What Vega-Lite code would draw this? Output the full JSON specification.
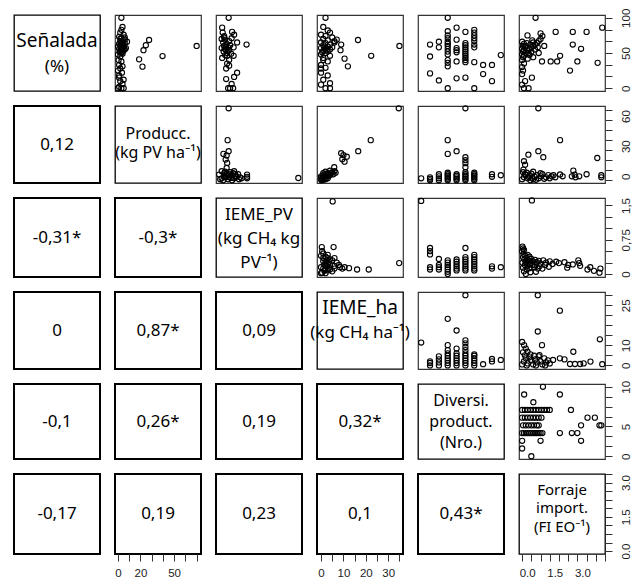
{
"$schema": "https://vega.github.io/schema/vega-lite/v6.json",
"background": "white",
"padding": {"left": 13, "top": 7, "right": 0, "bottom": 0},
"columns": 6,
"spacing": 15,
"bounds": "flush",
"config": {
 "font": "Noto Sans",
 "view": {"stroke": "#333", "strokeWidth": 1.2},
 "point": {"shape": "circle", "filled": false, "size": 27, "strokeWidth": 1.1, "color": "black", "opacity": 1},
 "text": {"font": "Noto Sans", "fontSize": 17, "fontWeight": "normal", "color": "black"},
 "axis": {"grid": false, "domain": false, "tickColor": "#333", "tickSize": 7, "tickWidth": 1, "labelFont": "Liberation Sans", "labelFontSize": 11.5, "labelColor": "#222", "labelFlush": false, "labelOverlap": false},
 "axisRight": {"labelAngle": -90, "labelAlign": "center", "labelBaseline": "top", "labelPadding": 8},
 "axisBottom": {"labelAngle": 0, "labelAlign": "center", "labelBaseline": "top", "labelPadding": 6}
},
"datasets": {
 "s12": [{"x":3,"y":100},{"x":4,"y":87},{"x":3,"y":83},{"x":2,"y":79},{"x":5,"y":76},{"x":1,"y":73},{"x":3,"y":71},{"x":6,"y":69},{"x":2,"y":67},{"x":4,"y":65},{"x":1,"y":63},{"x":3,"y":62},{"x":5,"y":61},{"x":2,"y":60},{"x":4,"y":58},{"x":7,"y":57},{"x":1,"y":56},{"x":3,"y":55},{"x":5,"y":54},{"x":2,"y":53},{"x":4,"y":52},{"x":3,"y":50},{"x":6,"y":64},{"x":8,"y":66},{"x":0,"y":48},{"x":2,"y":45},{"x":0.5,"y":40},{"x":3,"y":38},{"x":1,"y":33},{"x":4,"y":31},{"x":2,"y":28},{"x":3.5,"y":22},{"x":1,"y":18},{"x":5,"y":12},{"x":2,"y":10},{"x":4,"y":6},{"x":1,"y":2},{"x":3,"y":0},{"x":5,"y":0},{"x":0,"y":0},{"x":0,"y":25},{"x":1,"y":15},{"x":2,"y":70},{"x":6,"y":72},{"x":0,"y":59},{"x":4.5,"y":68},{"x":2.5,"y":64},{"x":5.5,"y":59},{"x":3.5,"y":57},{"x":1.5,"y":51},{"x":4,"y":49},{"x":6,"y":55},{"x":27.7,"y":68.5},{"x":24.8,"y":61},{"x":22.7,"y":54},{"x":18.8,"y":41},{"x":21.8,"y":30.6},{"x":39.7,"y":45.7},{"x":70.1,"y":60}],
 "s13": [{"x":0.19,"y":100},{"x":0.06,"y":86},{"x":0.07,"y":79},{"x":0.26,"y":80},{"x":0.3,"y":76},{"x":0.1,"y":74},{"x":0.05,"y":70},{"x":0.12,"y":69},{"x":0.36,"y":65},{"x":0.55,"y":62},{"x":0.2,"y":67},{"x":0.08,"y":65},{"x":0.15,"y":63},{"x":0.22,"y":61},{"x":0.1,"y":60},{"x":0.18,"y":58},{"x":0.29,"y":58},{"x":0.05,"y":57},{"x":0.13,"y":55},{"x":0.2,"y":54},{"x":0.09,"y":52},{"x":0.16,"y":50},{"x":0.24,"y":49},{"x":0.12,"y":47},{"x":0.16,"y":46},{"x":0.29,"y":46},{"x":0.06,"y":43},{"x":0.2,"y":40},{"x":0.16,"y":35},{"x":0.2,"y":32},{"x":0.14,"y":28},{"x":0.36,"y":22},{"x":0.3,"y":16},{"x":0.14,"y":13},{"x":0.25,"y":6},{"x":0.22,"y":0},{"x":0.28,"y":0},{"x":0.18,"y":0},{"x":0.1,"y":72},{"x":0.25,"y":71},{"x":0.14,"y":59},{"x":0.11,"y":56},{"x":0.17,"y":53}],
 "s14": [{"x":2,"y":100},{"x":1,"y":87},{"x":3,"y":82},{"x":4,"y":79},{"x":0,"y":76},{"x":2,"y":74},{"x":5,"y":72},{"x":1,"y":70},{"x":3,"y":68},{"x":6,"y":67},{"x":0,"y":65},{"x":2,"y":64},{"x":4,"y":62},{"x":1,"y":61},{"x":3,"y":59},{"x":5,"y":58},{"x":0,"y":57},{"x":2,"y":56},{"x":4,"y":55},{"x":1,"y":53},{"x":3,"y":52},{"x":2,"y":50},{"x":0,"y":48},{"x":4,"y":46},{"x":1,"y":43},{"x":3,"y":38},{"x":0,"y":33},{"x":2,"y":29},{"x":0,"y":22},{"x":3,"y":18},{"x":1,"y":12},{"x":4,"y":7},{"x":0,"y":5},{"x":2,"y":0},{"x":4,"y":0},{"x":6,"y":65},{"x":7,"y":69},{"x":9,"y":62},{"x":8.7,"y":54},{"x":16.5,"y":68.5},{"x":10.5,"y":42},{"x":12,"y":31},{"x":22.4,"y":46},{"x":35,"y":60},{"x":1,"y":40},{"x":0,"y":28},{"x":1.5,"y":58},{"x":2.5,"y":54},{"x":0.5,"y":51}],
 "s15": [{"x":2,"y":62},{"x":2,"y":45},{"x":2,"y":21},{"x":3,"y":66},{"x":3,"y":58},{"x":3,"y":11},{"x":4,"y":100},{"x":4,"y":81},{"x":4,"y":75},{"x":4,"y":71},{"x":4,"y":66},{"x":4,"y":63},{"x":4,"y":60},{"x":4,"y":56},{"x":4,"y":52},{"x":4,"y":48},{"x":4,"y":40},{"x":4,"y":36},{"x":4,"y":31},{"x":4,"y":0},{"x":5,"y":86},{"x":5,"y":69},{"x":5,"y":57},{"x":5,"y":54},{"x":5,"y":51},{"x":5,"y":38},{"x":5,"y":14},{"x":6,"y":80},{"x":6,"y":64},{"x":6,"y":61},{"x":6,"y":58},{"x":6,"y":55},{"x":6,"y":52},{"x":6,"y":49},{"x":6,"y":46},{"x":6,"y":43},{"x":6,"y":40},{"x":6,"y":37},{"x":6,"y":15},{"x":7,"y":83},{"x":7,"y":79},{"x":7,"y":75},{"x":7,"y":71},{"x":7,"y":67},{"x":7,"y":62},{"x":7,"y":58},{"x":7,"y":37},{"x":7,"y":0},{"x":8,"y":33},{"x":8,"y":20},{"x":9,"y":33},{"x":9,"y":10},{"x":10,"y":47}],
 "s16": [{"x":0.73,"y":100},{"x":0.29,"y":75},{"x":1.0,"y":70},{"x":0.9,"y":67},{"x":0.8,"y":64},{"x":0.7,"y":62},{"x":0.6,"y":60},{"x":0.5,"y":58},{"x":0.4,"y":56},{"x":0.3,"y":54},{"x":1.1,"y":74},{"x":1.0,"y":78},{"x":1.82,"y":80},{"x":2.75,"y":80},{"x":3.5,"y":80},{"x":4.35,"y":86},{"x":2.75,"y":62},{"x":3.2,"y":56},{"x":2.06,"y":46},{"x":1.08,"y":38},{"x":1.55,"y":38},{"x":1.9,"y":38},{"x":3.0,"y":38},{"x":4.1,"y":36},{"x":2.6,"y":25},{"x":0.53,"y":15},{"x":0.16,"y":10},{"x":0.35,"y":0},{"x":0.1,"y":0},{"x":0,"y":5},{"x":0,"y":66},{"x":0.1,"y":63},{"x":0.05,"y":60},{"x":0.15,"y":58},{"x":0,"y":56},{"x":0.1,"y":54},{"x":0.05,"y":52},{"x":0.2,"y":50},{"x":0,"y":48},{"x":0.1,"y":46},{"x":0.05,"y":44},{"x":0,"y":40},{"x":0.1,"y":35},{"x":0,"y":30},{"x":0.05,"y":25},{"x":0,"y":20},{"x":0.35,"y":50},{"x":0.5,"y":52},{"x":0.7,"y":55},{"x":0.45,"y":62},{"x":0.6,"y":65},{"x":0.25,"y":64},{"x":0.85,"y":58},{"x":0.4,"y":47},{"x":0.6,"y":44},{"x":0.9,"y":50},{"x":1.2,"y":60},{"x":0.3,"y":42},{"x":0.2,"y":60},{"x":0.55,"y":68}],
 "s23": [{"x":0.19,"y":71.7},{"x":0.17,"y":40},{"x":0.19,"y":29},{"x":0.085,"y":26.3},{"x":0.15,"y":24.7},{"x":0.13,"y":20.6},{"x":0.16,"y":17.3},{"x":0.15,"y":12.3},{"x":0.12,"y":8.5},{"x":0.56,"y":5.7},{"x":0.56,"y":3.5},{"x":0.56,"y":2},{"x":1.59,"y":2.3},{"x":0,"y":5.7},{"x":0.05,"y":2},{"x":0.1,"y":4},{"x":0.15,"y":6},{"x":0.2,"y":3},{"x":0.25,"y":5},{"x":0.3,"y":2},{"x":0.35,"y":4},{"x":0.4,"y":1},{"x":0.08,"y":0},{"x":0.18,"y":1},{"x":0.28,"y":7},{"x":0.22,"y":8},{"x":0.12,"y":3},{"x":0.32,"y":6},{"x":0.02,"y":1},{"x":0.42,"y":3},{"x":0.38,"y":6},{"x":0.45,"y":2},{"x":0.26,"y":0},{"x":0.1,"y":7},{"x":0.05,"y":9},{"x":0.2,"y":6},{"x":0.3,"y":9},{"x":0.14,"y":4.5},{"x":0.24,"y":2.5},{"x":0.33,"y":3.5}],
 "s24": [{"x":34.7,"y":71.7},{"x":22.2,"y":40},{"x":16.6,"y":29},{"x":9,"y":27},{"x":10,"y":25},{"x":11.5,"y":23.5},{"x":9.5,"y":21},{"x":10.5,"y":18.5},{"x":5.9,"y":13},{"x":4,"y":9.5},{"x":5,"y":8},{"x":3,"y":7},{"x":2,"y":6},{"x":1,"y":5},{"x":0,"y":4},{"x":1,"y":3},{"x":2,"y":2},{"x":3,"y":4},{"x":4,"y":5},{"x":0,"y":1},{"x":0.5,"y":2},{"x":1.5,"y":3.5},{"x":2.5,"y":4.5},{"x":3.5,"y":6},{"x":1,"y":0.5},{"x":2,"y":1},{"x":0,"y":2.5},{"x":4.5,"y":7},{"x":6,"y":9},{"x":3,"y":2},{"x":0.2,"y":0},{"x":5.5,"y":6},{"x":6.5,"y":7.5},{"x":1,"y":7},{"x":2,"y":8.5}],
 "s25": [{"x":1,"y":2},{"x":2,"y":0},{"x":2,"y":1.5},{"x":2,"y":3},{"x":3,"y":0},{"x":3,"y":2},{"x":3,"y":4},{"x":3,"y":6},{"x":4,"y":0},{"x":4,"y":1.5},{"x":4,"y":3},{"x":4,"y":4.5},{"x":4,"y":6},{"x":4,"y":7.5},{"x":4,"y":26.3},{"x":4,"y":40},{"x":5,"y":0},{"x":5,"y":1.5},{"x":5,"y":3},{"x":5,"y":4.5},{"x":5,"y":6},{"x":5,"y":29},{"x":6,"y":0},{"x":6,"y":1.5},{"x":6,"y":3},{"x":6,"y":4.5},{"x":6,"y":6},{"x":6,"y":8},{"x":6,"y":13},{"x":6,"y":17},{"x":6,"y":20},{"x":6,"y":23},{"x":6,"y":71.7},{"x":7,"y":0},{"x":7,"y":1.5},{"x":7,"y":3},{"x":7,"y":4.5},{"x":7,"y":6},{"x":7,"y":7.5},{"x":9,"y":3.5},{"x":9,"y":6},{"x":10,"y":5}],
 "s26": [{"x":0.88,"y":71.7},{"x":2.06,"y":40},{"x":0.88,"y":29},{"x":1.15,"y":23},{"x":0.34,"y":25.5},{"x":0.16,"y":15.5},{"x":0.07,"y":10.6},{"x":0.1,"y":19},{"x":4.08,"y":22.2},{"x":2.78,"y":9.6},{"x":2.7,"y":4},{"x":2.9,"y":3},{"x":3.1,"y":4},{"x":2.85,"y":5.5},{"x":3.5,"y":6},{"x":2.06,"y":5.8},{"x":1.7,"y":5},{"x":4.3,"y":5},{"x":4.3,"y":3},{"x":0,"y":1},{"x":0.1,"y":3},{"x":0.2,"y":5.5},{"x":0.3,"y":2},{"x":0.42,"y":4.5},{"x":0.5,"y":6.5},{"x":0.6,"y":1},{"x":0.68,"y":3.5},{"x":0.8,"y":5},{"x":0.9,"y":2},{"x":1.02,"y":4},{"x":1.1,"y":6},{"x":1.2,"y":1.5},{"x":1.3,"y":3},{"x":1.42,"y":5.2},{"x":1.5,"y":2},{"x":1.6,"y":4},{"x":0.25,"y":7.5},{"x":0.05,"y":8},{"x":0.45,"y":0},{"x":0.75,"y":0.5},{"x":1,"y":7},{"x":0.15,"y":6},{"x":0.6,"y":8.5},{"x":1.8,"y":3},{"x":2.2,"y":4},{"x":0.35,"y":3.5},{"x":0.55,"y":2.5}],
 "s34": [{"x":5.2,"y":1.59},{"x":0.35,"y":0.59},{"x":5.6,"y":0.59},{"x":0.5,"y":0.5},{"x":1,"y":0.45},{"x":0,"y":0.4},{"x":2,"y":0.38},{"x":3,"y":0.35},{"x":4,"y":0.32},{"x":5,"y":0.3},{"x":1,"y":0.28},{"x":2,"y":0.25},{"x":3,"y":0.22},{"x":4,"y":0.2},{"x":6,"y":0.18},{"x":0,"y":0.15},{"x":1,"y":0.12},{"x":2,"y":0.1},{"x":3,"y":0.08},{"x":5,"y":0.06},{"x":0.5,"y":0.03},{"x":7,"y":0.25},{"x":8,"y":0.2},{"x":6,"y":0.12},{"x":4,"y":0.1},{"x":8.5,"y":0.15},{"x":1.5,"y":0.2},{"x":2.5,"y":0.3},{"x":3.5,"y":0.14},{"x":9.5,"y":0.12},{"x":10.5,"y":0.15},{"x":12.5,"y":0.13},{"x":16.1,"y":0.1},{"x":21.3,"y":0.1},{"x":34.9,"y":0.24},{"x":0,"y":0.02},{"x":2,"y":0.02},{"x":1,"y":0.35},{"x":3,"y":0.42},{"x":6,"y":0.35},{"x":2.5,"y":0.17},{"x":3.5,"y":0.27},{"x":1.5,"y":0.07}],
 "s35": [{"x":1,"y":1.6},{"x":2,"y":0.57},{"x":2,"y":0.5},{"x":2,"y":0.43},{"x":2,"y":0.15},{"x":2,"y":0.1},{"x":3,"y":0.33},{"x":3,"y":0.2},{"x":3,"y":0.15},{"x":3,"y":0.1},{"x":4,"y":0},{"x":4,"y":0.05},{"x":4,"y":0.1},{"x":4,"y":0.15},{"x":4,"y":0.2},{"x":4,"y":0.25},{"x":4,"y":0.3},{"x":5,"y":0.08},{"x":5,"y":0.12},{"x":5,"y":0.17},{"x":5,"y":0.22},{"x":5,"y":0.27},{"x":5,"y":0.32},{"x":6,"y":0.57},{"x":6,"y":0.08},{"x":6,"y":0.12},{"x":6,"y":0.17},{"x":6,"y":0.22},{"x":6,"y":0.27},{"x":6,"y":0.32},{"x":6,"y":0.37},{"x":7,"y":0.08},{"x":7,"y":0.12},{"x":7,"y":0.17},{"x":7,"y":0.22},{"x":7,"y":0.27},{"x":7,"y":0.32},{"x":7,"y":0.37},{"x":7,"y":0.42},{"x":9,"y":0.12},{"x":9,"y":0.17},{"x":10,"y":0.15}],
 "s36": [{"x":0.53,"y":1.61},{"x":0.02,"y":0.6},{"x":0.05,"y":0.56},{"x":0.1,"y":0.53},{"x":0.0,"y":0.5},{"x":0.08,"y":0.44},{"x":0.18,"y":0.4},{"x":0.3,"y":0.42},{"x":0.05,"y":0.37},{"x":0.25,"y":0.35},{"x":0.4,"y":0.38},{"x":0.12,"y":0.32},{"x":0.35,"y":0.3},{"x":0.5,"y":0.33},{"x":0.6,"y":0.28},{"x":0.2,"y":0.27},{"x":0.02,"y":0.25},{"x":0.45,"y":0.24},{"x":0.7,"y":0.31},{"x":0.8,"y":0.26},{"x":0.15,"y":0.2},{"x":0.3,"y":0.18},{"x":0.55,"y":0.2},{"x":0.9,"y":0.29},{"x":1.0,"y":0.23},{"x":0.05,"y":0.14},{"x":0.25,"y":0.1},{"x":0.4,"y":0.13},{"x":0.65,"y":0.15},{"x":0.85,"y":0.12},{"x":0.1,"y":0.06},{"x":0.45,"y":0.04},{"x":0.2,"y":0.0},{"x":1.15,"y":0.3},{"x":1.3,"y":0.25},{"x":1.25,"y":0.2},{"x":1.5,"y":0.28},{"x":1.65,"y":0.22},{"x":1.85,"y":0.27},{"x":2.0,"y":0.24},{"x":2.3,"y":0.26},{"x":2.5,"y":0.2},{"x":2.45,"y":0.14},{"x":2.75,"y":0.21},{"x":3.05,"y":0.3},{"x":3.1,"y":0.24},{"x":3.15,"y":0.18},{"x":3.55,"y":0.1},{"x":3.7,"y":0.15},{"x":3.9,"y":0.07},{"x":4.2,"y":0.03},{"x":4.25,"y":0.12},{"x":1.1,"y":0.12},{"x":0.75,"y":0.05},{"x":1.45,"y":0.16},{"x":0.35,"y":0.22},{"x":0.7,"y":0.19},{"x":0.95,"y":0.17}],
 "s45": [{"x":1,"y":11.4},{"x":2,"y":0},{"x":2,"y":1.2},{"x":2,"y":2},{"x":3,"y":0},{"x":3,"y":1.5},{"x":3,"y":3},{"x":3,"y":4.5},{"x":4,"y":0},{"x":4,"y":1.2},{"x":4,"y":2.4},{"x":4,"y":3.6},{"x":4,"y":4.8},{"x":4,"y":6},{"x":4,"y":7.6},{"x":4,"y":10.1},{"x":4,"y":23.2},{"x":5,"y":0},{"x":5,"y":1.2},{"x":5,"y":2.4},{"x":5,"y":3.6},{"x":5,"y":4.8},{"x":5,"y":6},{"x":5,"y":8.4},{"x":5,"y":17.4},{"x":6,"y":0},{"x":6,"y":1.2},{"x":6,"y":2.4},{"x":6,"y":3.6},{"x":6,"y":4.8},{"x":6,"y":6},{"x":6,"y":7.6},{"x":6,"y":9.2},{"x":6,"y":11},{"x":6,"y":12.5},{"x":6,"y":35},{"x":7,"y":0},{"x":7,"y":1.2},{"x":7,"y":2.4},{"x":7,"y":3.6},{"x":7,"y":4.8},{"x":7,"y":5.5},{"x":8,"y":0.6},{"x":9,"y":2},{"x":9,"y":3.2},{"x":10,"y":2.7}],
 "s46": [{"x":0.85,"y":35},{"x":2.05,"y":27.3},{"x":0.85,"y":16.9},{"x":1.08,"y":10.1},{"x":4.22,"y":13},{"x":0,"y":11.7},{"x":0.11,"y":10.1},{"x":0.2,"y":8.4},{"x":0.29,"y":6.8},{"x":0.94,"y":5.15},{"x":2.78,"y":6.8},{"x":2.6,"y":0.7},{"x":2.87,"y":0.7},{"x":3.15,"y":0.7},{"x":3.34,"y":1},{"x":3.71,"y":1.9},{"x":4.35,"y":0.6},{"x":1.68,"y":2.7},{"x":2.05,"y":3.5},{"x":2.3,"y":3},{"x":0,"y":0.5},{"x":0.1,"y":2},{"x":0.2,"y":3.5},{"x":0.3,"y":1},{"x":0.4,"y":4},{"x":0.5,"y":2.5},{"x":0.6,"y":0.5},{"x":0.7,"y":3},{"x":0.8,"y":1.5},{"x":0.9,"y":4.5},{"x":1.0,"y":2},{"x":1.1,"y":0.5},{"x":1.2,"y":3.5},{"x":1.3,"y":1.5},{"x":1.4,"y":2.5},{"x":1.5,"y":1},{"x":0.15,"y":5},{"x":0.05,"y":6.5},{"x":0.45,"y":5.5},{"x":0.65,"y":4.8},{"x":0.25,"y":0},{"x":0.75,"y":0},{"x":1.25,"y":0}],
 "s56": [{"x":1.13,"y":10},{"x":0.11,"y":9},{"x":2.05,"y":9},{"x":0.61,"y":8},{"x":0,"y":7},{"x":0.15,"y":7},{"x":0.3,"y":7},{"x":0.45,"y":7},{"x":0.6,"y":7},{"x":0.75,"y":7},{"x":0.9,"y":7},{"x":1.05,"y":7},{"x":1.2,"y":7},{"x":1.35,"y":7},{"x":1.5,"y":7},{"x":2.65,"y":7},{"x":0,"y":6},{"x":0.15,"y":6},{"x":0.3,"y":6},{"x":0.45,"y":6},{"x":0.6,"y":6},{"x":0.75,"y":6},{"x":0.9,"y":6},{"x":1.05,"y":6},{"x":3.55,"y":6},{"x":3.95,"y":6},{"x":0.05,"y":5},{"x":0.2,"y":5},{"x":0.35,"y":5},{"x":0.5,"y":5},{"x":0.65,"y":5},{"x":0.8,"y":5},{"x":0.9,"y":5},{"x":3.2,"y":5},{"x":4.2,"y":5},{"x":4.3,"y":5},{"x":0,"y":4},{"x":0.1,"y":4},{"x":0.2,"y":4},{"x":0.3,"y":4},{"x":0.4,"y":4},{"x":0.5,"y":4},{"x":0.6,"y":4},{"x":0.7,"y":4},{"x":0.8,"y":4},{"x":0.9,"y":4},{"x":1.0,"y":4},{"x":1.1,"y":4},{"x":2.05,"y":4},{"x":2.7,"y":4},{"x":3.0,"y":4},{"x":0,"y":3},{"x":1.0,"y":3},{"x":3.2,"y":3},{"x":0,"y":2},{"x":0.5,"y":1}]
},
"concat": [
 {"width":86,"height":76,"view":{"stroke":"black","strokeWidth":1.3},"data":{"values":[{"t":"Señalada","line":1,"role":"title"},{"t":"(%)","line":2,"role":"unit"}]},"mark":"text","encoding":{"text":{"field":"t"},"y":{"field":"line","type":"ordinal","scale":{"type":"point","domain":[1,2],"padding":1.227,"align":0.5185},"axis":null},"size":{"field":"role","type":"ordinal","scale":{"type":"point","domain":["title","unit"],"range":[19,17],"padding":0},"legend":null}}},
 {"width":86,"height":76,"data":{"name":"s12"},"mark":"point","encoding":{"x":{"field":"x","type":"quantitative","scale":{"domain":[-2.7,74],"nice":false,"zero":false},"axis":null},"y":{"field":"y","type":"quantitative","scale":{"domain":[-4,104],"nice":false,"zero":false},"axis":null}}},
 {"width":86,"height":76,"data":{"name":"s13"},"mark":"point","encoding":{"x":{"field":"x","type":"quantitative","scale":{"domain":[-0.064,1.664],"nice":false,"zero":false},"axis":null},"y":{"field":"y","type":"quantitative","scale":{"domain":[-4,104],"nice":false,"zero":false},"axis":null}}},
 {"width":86,"height":76,"data":{"name":"s14"},"mark":"point","encoding":{"x":{"field":"x","type":"quantitative","scale":{"domain":[-1.8,36.6],"nice":false,"zero":false},"axis":null},"y":{"field":"y","type":"quantitative","scale":{"domain":[-4,104],"nice":false,"zero":false},"axis":null}}},
 {"width":86,"height":76,"data":{"name":"s15"},"mark":"point","encoding":{"x":{"field":"x","type":"quantitative","scale":{"domain":[0.64,10.36],"nice":false,"zero":false},"axis":null},"y":{"field":"y","type":"quantitative","scale":{"domain":[-4,104],"nice":false,"zero":false},"axis":null}}},
 {"width":86,"height":76,"data":{"name":"s16"},"mark":"point","encoding":{"x":{"field":"x","type":"quantitative","scale":{"domain":[-0.17,4.5],"nice":false,"zero":false},"axis":null},"y":{"field":"y","type":"quantitative","scale":{"domain":[-4,104],"nice":false,"zero":false},"axis":{"orient":"right","title":null,"values":[0,16.667,33.333,50,66.667,83.333,100],"labelExpr":"datum.value==0?'0':datum.value==50?'50':datum.value==100?'100':''"}}}},

 {"width":86,"height":77,"view":{"stroke":"black","strokeWidth":2},"data":{"values":[{"r":"0,12"}]},"mark":"text","encoding":{"text":{"field":"r"}}},
 {"width":86,"height":77,"view":{"stroke":"black","strokeWidth":1.3},"data":{"values":[{"t":["Producc.","(kg PV ha⁻¹)"]}]},"mark":{"type":"text","fontSize":16,"lineHeight":19,"dy":-11},"encoding":{"text":{"field":"t"}}},
 {"width":86,"height":77,"data":{"name":"s23"},"mark":"point","encoding":{"x":{"field":"x","type":"quantitative","scale":{"domain":[-0.064,1.664],"nice":false,"zero":false},"axis":null},"y":{"field":"y","type":"quantitative","scale":{"domain":[-2.7,74],"nice":false,"zero":false},"axis":null}}},
 {"width":86,"height":77,"data":{"name":"s24"},"mark":"point","encoding":{"x":{"field":"x","type":"quantitative","scale":{"domain":[-1.8,36.6],"nice":false,"zero":false},"axis":null},"y":{"field":"y","type":"quantitative","scale":{"domain":[-2.7,74],"nice":false,"zero":false},"axis":null}}},
 {"width":86,"height":77,"data":{"name":"s25"},"mark":"point","encoding":{"x":{"field":"x","type":"quantitative","scale":{"domain":[0.64,10.36],"nice":false,"zero":false},"axis":null},"y":{"field":"y","type":"quantitative","scale":{"domain":[-2.7,74],"nice":false,"zero":false},"axis":null}}},
 {"width":86,"height":77,"data":{"name":"s26"},"mark":"point","encoding":{"x":{"field":"x","type":"quantitative","scale":{"domain":[-0.17,4.5],"nice":false,"zero":false},"axis":null},"y":{"field":"y","type":"quantitative","scale":{"domain":[-2.7,74],"nice":false,"zero":false},"axis":{"orient":"right","title":null,"values":[0,10,20,30,40,50,60,70],"labelOffset":-4,"labelExpr":"datum.value==0||datum.value==30||datum.value==60?datum.label:''"}}}},

 {"width":86,"height":79,"view":{"stroke":"black","strokeWidth":2},"data":{"values":[{"r":"-0,31*"}]},"mark":"text","encoding":{"text":{"field":"r"}}},
 {"width":86,"height":79,"view":{"stroke":"black","strokeWidth":2},"data":{"values":[{"r":"-0,3*"}]},"mark":"text","encoding":{"text":{"field":"r"}}},
 {"width":86,"height":79,"view":{"stroke":"black","strokeWidth":1.3},"data":{"values":[{"t":["IEME_PV","(kg CH₄ kg","PV⁻¹)"]}]},"mark":{"type":"text","fontSize":17,"lineHeight":24,"dy":-22.5},"encoding":{"text":{"field":"t"}}},
 {"width":86,"height":79,"data":{"name":"s34"},"mark":"point","encoding":{"x":{"field":"x","type":"quantitative","scale":{"domain":[-1.8,36.6],"nice":false,"zero":false},"axis":null},"y":{"field":"y","type":"quantitative","scale":{"domain":[-0.064,1.664],"nice":false,"zero":false},"axis":null}}},
 {"width":86,"height":79,"data":{"name":"s35"},"mark":"point","encoding":{"x":{"field":"x","type":"quantitative","scale":{"domain":[0.64,10.36],"nice":false,"zero":false},"axis":null},"y":{"field":"y","type":"quantitative","scale":{"domain":[-0.064,1.664],"nice":false,"zero":false},"axis":null}}},
 {"width":86,"height":79,"data":{"name":"s36"},"mark":"point","encoding":{"x":{"field":"x","type":"quantitative","scale":{"domain":[-0.17,4.5],"nice":false,"zero":false},"axis":null},"y":{"field":"y","type":"quantitative","scale":{"domain":[-0.064,1.664],"nice":false,"zero":false},"axis":{"orient":"right","title":null,"values":[0,0.25,0.5,0.75,1,1.25,1.5],"labelExpr":"datum.value==0?'0':datum.value==0.75?'0,75':datum.value==1.5?'1,5':''"}}}},

 {"width":86,"height":77,"view":{"stroke":"black","strokeWidth":2},"data":{"values":[{"r":"0"}]},"mark":"text","encoding":{"text":{"field":"r"}}},
 {"width":86,"height":77,"view":{"stroke":"black","strokeWidth":2},"data":{"values":[{"r":"0,87*"}]},"mark":"text","encoding":{"text":{"field":"r"}}},
 {"width":86,"height":77,"view":{"stroke":"black","strokeWidth":2},"data":{"values":[{"r":"0,09"}]},"mark":"text","encoding":{"text":{"field":"r"}}},
 {"width":86,"height":77,"view":{"stroke":"black","strokeWidth":1.3},"data":{"values":[{"t":"IEME_ha","line":1,"role":"title"},{"t":"(kg CH₄ ha⁻¹)","line":2,"role":"unit"}]},"mark":"text","encoding":{"text":{"field":"t"},"y":{"field":"line","type":"ordinal","scale":{"type":"point","domain":[1,2],"padding":1.425,"align":0.307},"axis":null},"size":{"field":"role","type":"ordinal","scale":{"type":"point","domain":["title","unit"],"range":[18.5,14],"padding":0},"legend":null}}},
 {"width":86,"height":77,"data":{"name":"s45"},"mark":"point","encoding":{"x":{"field":"x","type":"quantitative","scale":{"domain":[0.64,10.36],"nice":false,"zero":false},"axis":null},"y":{"field":"y","type":"quantitative","scale":{"domain":[-1.8,36.6],"nice":false,"zero":false},"axis":null}}},
 {"width":86,"height":77,"data":{"name":"s46"},"mark":"point","encoding":{"x":{"field":"x","type":"quantitative","scale":{"domain":[-0.17,4.5],"nice":false,"zero":false},"axis":null},"y":{"field":"y","type":"quantitative","scale":{"domain":[-1.8,36.6],"nice":false,"zero":false},"axis":{"orient":"right","title":null,"values":[0,5,10,15,20,25,30,35],"labelExpr":"datum.value==0?'0':datum.value==10?'10':datum.value==30?'25':''"}}}},

 {"width":86,"height":75,"view":{"stroke":"black","strokeWidth":2},"data":{"values":[{"r":"-0,1"}]},"mark":"text","encoding":{"text":{"field":"r"}}},
 {"width":86,"height":75,"view":{"stroke":"black","strokeWidth":2},"data":{"values":[{"r":"0,26*"}]},"mark":"text","encoding":{"text":{"field":"r"}}},
 {"width":86,"height":75,"view":{"stroke":"black","strokeWidth":2},"data":{"values":[{"r":"0,19"}]},"mark":"text","encoding":{"text":{"field":"r"}}},
 {"width":86,"height":75,"view":{"stroke":"black","strokeWidth":2},"data":{"values":[{"r":"0,32*"}]},"mark":"text","encoding":{"text":{"field":"r"}}},
 {"width":86,"height":75,"view":{"stroke":"black","strokeWidth":1.3},"data":{"values":[{"t":["Diversi.","product.","(Nro.)"]}]},"mark":{"type":"text","fontSize":16,"lineHeight":21,"dy":-21},"encoding":{"text":{"field":"t"}}},
 {"width":86,"height":75,"data":{"name":"s56"},"mark":"point","encoding":{"x":{"field":"x","type":"quantitative","scale":{"domain":[-0.17,4.5],"nice":false,"zero":false},"axis":null},"y":{"field":"y","type":"quantitative","scale":{"domain":[0.64,10.36],"nice":false,"zero":false},"axis":{"orient":"right","title":null,"values":[1,2.2857,3.5714,4.8571,6.1429,7.4286,8.7143,10],"labelExpr":"datum.value==1?'0':datum.value==4.8571?'5':datum.value==10?'10':''"}}}},

 {"width":86,"height":80,"view":{"stroke":"black","strokeWidth":2},"data":{"values":[{"r":"-0,17"}]},"mark":"text","encoding":{"text":{"field":"r"}}},
 {"width":86,"height":80,"view":{"stroke":"black","strokeWidth":2},"data":{"values":[{"r":"0,19"}]},"layer":[{"mark":"text","encoding":{"text":{"field":"r"}}},{"mark":{"type":"point","opacity":0},"encoding":{"x":{"datum":0,"type":"quantitative","scale":{"domain":[-2.7,74],"nice":false,"zero":false},"axis":{"orient":"bottom","title":null,"values":[0,10,20,30,40,50,60,70],"labelExpr":"datum.value==0||datum.value==20||datum.value==50?datum.label:''"}}}}]},
 {"width":86,"height":80,"view":{"stroke":"black","strokeWidth":2},"data":{"values":[{"r":"0,23"}]},"mark":"text","encoding":{"text":{"field":"r"}}},
 {"width":86,"height":80,"view":{"stroke":"black","strokeWidth":2},"data":{"values":[{"r":"0,1"}]},"layer":[{"mark":"text","encoding":{"text":{"field":"r"}}},{"mark":{"type":"point","opacity":0},"encoding":{"x":{"datum":0,"type":"quantitative","scale":{"domain":[-1.8,36.6],"nice":false,"zero":false},"axis":{"orient":"bottom","title":null,"values":[0,5,10,15,20,25,30,35],"labelExpr":"datum.value%10==0?datum.label:''"}}}}]},
 {"width":86,"height":80,"view":{"stroke":"black","strokeWidth":2},"data":{"values":[{"r":"0,43*"}]},"mark":"text","encoding":{"text":{"field":"r"}}},
 {"width":86,"height":80,"view":{"stroke":"black","strokeWidth":1.3},"data":{"values":[{"t":["Forraje","import.","(FI EO⁻¹)"]}]},"layer":[{"mark":{"type":"text","fontSize":15,"lineHeight":18.25,"dy":-24},"encoding":{"text":{"field":"t"}}},{"mark":{"type":"point","opacity":0},"encoding":{"x":{"datum":2,"type":"quantitative","scale":{"domain":[-0.17,4.5],"nice":false,"zero":false},"axis":{"orient":"bottom","title":null,"values":[0,0.5,1,1.5,2,2.5,3,3.5,4,4.5],"labelOffset":5,"labelExpr":"datum.value==0?'0.0':datum.value==1.5?'1.5':datum.value==3?'3.0':''"}},"y":{"datum":2,"type":"quantitative","scale":{"domain":[-0.17,4.5],"nice":false,"zero":false},"axis":{"orient":"right","title":null,"values":[0,0.5,1,1.5,2,2.5,3,3.5,4,4.5],"labelExpr":"datum.value==0?'0.0':datum.value==2?'1.5':datum.value==4?'3.0':''"}}}}]}
]
}
